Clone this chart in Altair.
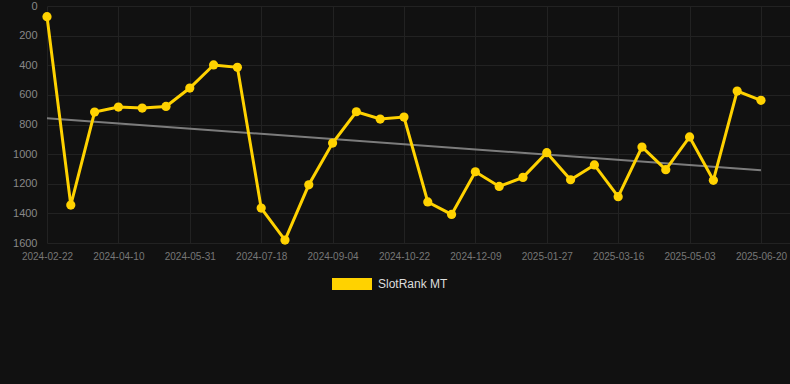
import altair as alt
import pandas as pd

dates = [
    "2024-02-22", "2024-03-09", "2024-03-25", "2024-04-10", "2024-04-27", "2024-05-14",
    "2024-05-31", "2024-06-16", "2024-07-02", "2024-07-18", "2024-08-03", "2024-08-19",
    "2024-09-04", "2024-09-20", "2024-10-06", "2024-10-22", "2024-11-07", "2024-11-23",
    "2024-12-09", "2024-12-25", "2025-01-11", "2025-01-27", "2025-02-12", "2025-02-28",
    "2025-03-16", "2025-04-01", "2025-04-17", "2025-05-03", "2025-05-19", "2025-06-04",
    "2025-06-20",
]
ranks = [
    72, 1344, 716, 682, 689, 678, 554, 398, 414, 1364, 1580, 1207, 925, 714, 763, 750,
    1323, 1407, 1119, 1218, 1157, 990, 1173, 1073, 1287, 952, 1105, 884, 1177, 574, 637,
]
series_name = "SlotRank MT"
tick_labels = [
    "2024-02-22", "2024-04-10", "2024-05-31", "2024-07-18", "2024-09-04", "2024-10-22",
    "2024-12-09", "2025-01-27", "2025-03-16", "2025-05-03", "2025-06-20",
]
y_ticks = [0, 200, 400, 600, 800, 1000, 1200, 1400, 1600]

df = pd.DataFrame({"date": dates, "rank": ranks, "series": series_name})

YELLOW = "#FFD200"
FONT = "Liberation Sans"
GRID = "#222222"

label_array = "[" + ",".join("'%s'" % s for s in tick_labels) + "]"
x_scale = alt.Scale(domain=[0, 31.22], nice=False, zero=False)
x_axis = alt.Axis(
    values=[i * 3 for i in range(len(tick_labels))],
    labelExpr=label_array + "[round(datum.value / 3)]",
    title=None,
    grid=True,
    gridColor=GRID,
    domain=False,
    ticks=False,
    labelColor="#777777",
    labelFontSize=10,
    labelFont=FONT,
    labelPadding=8,
    labelFlush=False,
    labelOverlap=False,
)
y_scale = alt.Scale(domain=[0, 1600], reverse=True, nice=False, zero=False)
y_axis = alt.Axis(
    values=y_ticks,
    format="d",
    title=None,
    grid=True,
    gridColor=GRID,
    domain=False,
    ticks=False,
    labelColor="#888888",
    labelFontSize=11,
    labelFont=FONT,
    labelPadding=10,
)

base = alt.Chart(df).transform_window(
    rn="row_number()"
).transform_calculate(idx="datum.rn - 1")

enc_x = alt.X("idx:Q", scale=x_scale, axis=x_axis)
enc_y = alt.Y("rank:Q", scale=y_scale, axis=y_axis)

line = base.mark_line(strokeWidth=3).encode(
    x=enc_x,
    y=enc_y,
    color=alt.Color(
        "series:N",
        scale=alt.Scale(domain=[series_name], range=[YELLOW]),
        legend=alt.Legend(
            title=None,
            orient="none",
            legendX=285,
            legendY=258,
            symbolType="M-1,-0.3L1,-0.3L1,0.3L-1,0.3Z",
            symbolSize=1600,
            symbolStrokeWidth=0,
            labelColor="#dddddd",
            labelFontSize=12,
            labelFont=FONT,
            labelOffset=6,
            padding=0,
        ),
    ),
    detail="date:N" if False else alt.Undefined,
)

points = base.mark_point(filled=True, size=85, opacity=1).encode(
    x=enc_x,
    y=enc_y,
    color=alt.Color("series:N", scale=alt.Scale(domain=[series_name], range=[YELLOW]), legend=None),
    tooltip=["date:N", "rank:Q"],
)

trend = base.transform_regression("idx", "rank").mark_line(
    color="#888888", strokeWidth=2, opacity=0.9
).encode(x=enc_x, y=enc_y)

chart = (
    alt.layer(trend, line, points)
    .properties(
        width=743,
        height=237,
        background="#111111",
        padding={"left": 47, "top": 6, "right": 0, "bottom": 141},
        autosize=alt.AutoSizeParams(type="none"),
    )
    .configure_view(stroke=None)
)

chart.save("out.html", embed_options={"renderer": "svg", "actions": False})
